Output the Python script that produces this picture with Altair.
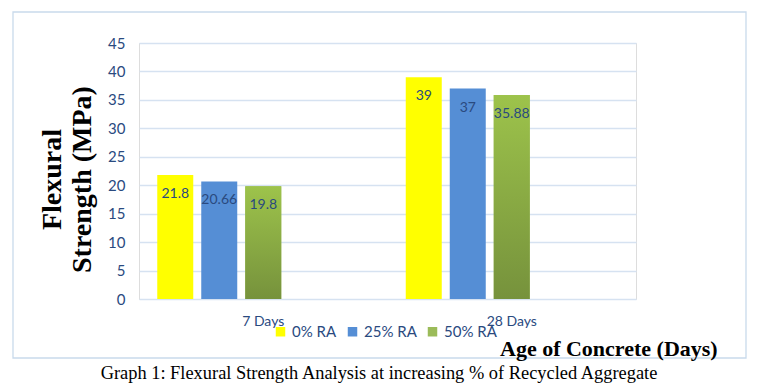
import altair as alt
import pandas as pd

ages = ["7 Days", "28 Days"]
series = ["0% RA", "25% RA", "50% RA"]
values = {
    "0% RA": [21.8, 39],
    "25% RA": [20.66, 37],
    "50% RA": [19.8, 35.88],
}
colors = ["#FFFF00", "#558ED5", "#9BBB59"]
offset_domain = series + ["_s4", "_s5"]
y_ticks = [0, 5, 10, 15, 20, 25, 30, 35, 40, 45]

rows = []
for s in series:
    for a, v in zip(ages, values[s]):
        rows.append({"age": a, "series": s, "value": v, "label": f"{v:g}"})
df = pd.DataFrame(rows)

W, H = 497, 256
navy = "#2A4A7F"
grid = "#D6E2F1"

x_enc = alt.X("age:N", sort=ages, scale=alt.Scale(domain=ages, paddingInner=0, paddingOuter=0),
              axis=alt.Axis(title=None, labelAngle=0, domain=False, ticks=False, grid=False,
                            labelPadding=15, labelFontSize=14, labelColor=navy, labelFont="Lato"))
xo_enc = alt.XOffset("series:N", scale=alt.Scale(domain=offset_domain, paddingInner=0.18, paddingOuter=0.414))
y_enc = alt.Y("value:Q", scale=alt.Scale(domain=[0, 45], nice=False),
              axis=alt.Axis(values=y_ticks, title=["Flexural", "Strength (MPa)"],
                            titleFont="Liberation Serif", titleFontSize=28, titleFontWeight="bold",
                            titleColor="#000000", titleX=-73, titleY=H / 2 + 8, titleAngle=-90,
                            titleAlign="center", titleLineHeight=30,
                            labelFont="Lato", labelFontSize=15, labelColor=navy, labelPadding=14,
                            domain=False, ticks=False, gridColor=grid, gridWidth=1.3))

base = alt.Chart(df)

bars = base.mark_bar(width=36).encode(
    x=x_enc, xOffset=xo_enc, y=y_enc,
    color=alt.Color("series:N", scale=alt.Scale(domain=series, range=colors),
                    legend=alt.Legend(title=None, orient="none", direction="horizontal",
                                      legendX=134, legendY=281, symbolType="square", symbolSize=90,
                                      symbolStrokeWidth=0, labelFont="Lato", labelFontSize=15,
                                      labelColor=navy, columnPadding=8, labelOffset=4)),
)

green = base.transform_filter(alt.datum.series == "50% RA").mark_bar(
    width=36,
    color=alt.Gradient(gradient="linear", x1=0, x2=0, y1=0, y2=1,
                       stops=[alt.GradientStop(offset=0, color="#9DC34B"),
                              alt.GradientStop(offset=1, color="#76923C")]),
).encode(x=x_enc, xOffset=xo_enc, y=y_enc)

labels = base.mark_text(dy=19, fontSize=14, font="Lato", color=navy, baseline="middle").encode(
    x=x_enc, xOffset=xo_enc, y=y_enc, text="label:N")

border = alt.Chart(pd.DataFrame({"a": [0]})).mark_rect(
    fill=None, stroke="#C9DAEC", strokeWidth=1.3).encode(
    x=alt.value(-126), x2=alt.value(607), y=alt.value(-31), y2=alt.value(315))

xtitle = alt.Chart(pd.DataFrame({"t": ["Age of Concrete (Days)"]})).mark_text(
    font="Liberation Serif", fontSize=22, fontWeight="bold", color="#000000",
    align="left", baseline="middle").encode(x=alt.value(361), y=alt.value(306), text="t:N")

caption = alt.Chart(pd.DataFrame({"t": ["Graph 1: Flexural Strength Analysis at increasing % of Recycled Aggregate"]})).mark_text(
    font="Liberation Serif", fontSize=18.4, color="#000000", align="center", baseline="middle").encode(
    x=alt.value(240), y=alt.value(330), text="t:N")

chart = alt.layer(border, bars, green, labels, xtitle, caption).properties(
    width=W, height=H,
    padding={"left": 131, "top": 35, "right": 112, "bottom": 84},
    autosize=alt.AutoSizeParams(type="none"),
).configure_view(stroke=None).configure(background="white")

chart.save("out.html", embed_options={"renderer": "svg", "actions": False})
